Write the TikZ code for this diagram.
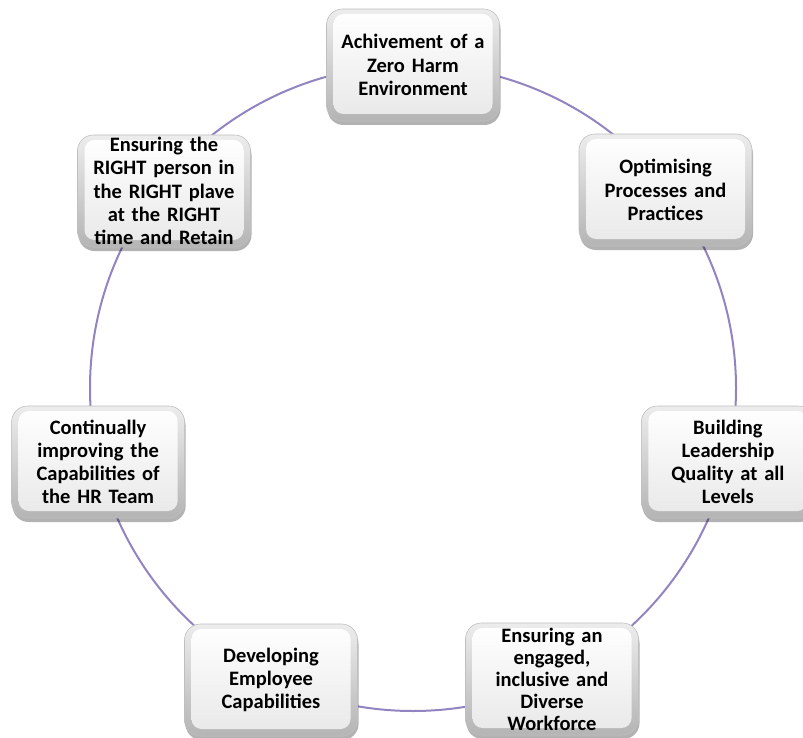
\documentclass[tikz,border=0pt]{standalone}
\usepackage{fontspec}
\setmainfont{Carlito}
\usetikzlibrary{shadows,calc}
\definecolor{ringcol}{HTML}{9284C0}
\definecolor{rimtop}{HTML}{EDEDED}
\definecolor{rimbot}{HTML}{B4B4B4}
\definecolor{facetop}{HTML}{FFFFFF}
\definecolor{facebot}{HTML}{E8E8E8}
\tikzset{
  cyclebox/.style={
    rounded corners=16pt,
    minimum width=173pt, minimum height=112pt,
    text width=170pt, align=center,
    font=\fontsize{20.5}{23.2}\selectfont\bfseries,
    draw=gray!50, line width=0.6pt,
    top color=rimtop, bottom color=rimbot,
    drop shadow={shadow xshift=1pt, shadow yshift=-4pt, opacity=0.3, fill=black},
    path picture={
      \shade[rounded corners=10pt, top color=facetop, bottom color=facebot]
        ([shift={(7pt,-5pt)}]path picture bounding box.north west)
        rectangle ([shift={(-7pt,7pt)}]path picture bounding box.south east);
    },
    inner sep=0pt
  },
  tightbox/.style={cyclebox, font=\fontsize{20.5}{22}\selectfont\bfseries},
  ring/.style={draw=ringcol, line width=2pt}
}
\begin{document}
\begin{tikzpicture}[x=1pt,y=-1pt]
\useasboundingbox (0,0) rectangle (803,738);
\coordinate (c) at (413,388);
\draw[ring] (c) circle[radius=323];
\node[cyclebox] (n1) at (413,65) {Achivement of a\\Zero Harm\\Environment};
\node[cyclebox] (n2) at (665.5,190) {Optimising\\Processes and\\Practices};
\node[cyclebox] (n3) at (727.9,462) {Building\\Leadership\\Quality at all\\Levels};
\node[tightbox] (n4) at (552,679) {Ensuring an\\engaged,\\inclusive and\\Diverse\\Workforce};
\node[cyclebox] (n5) at (271,680) {Developing\\Employee\\Capabilities};
\node[cyclebox] (n6) at (98.1,462) {Continually\\improving the\\Capabilities of\\the HR Team};
\node[cyclebox] (n7) at (164,191) {Ensuring the\\RIGHT person in\\the RIGHT plave\\at the RIGHT\\time and Retain};
\end{tikzpicture}
\end{document}
